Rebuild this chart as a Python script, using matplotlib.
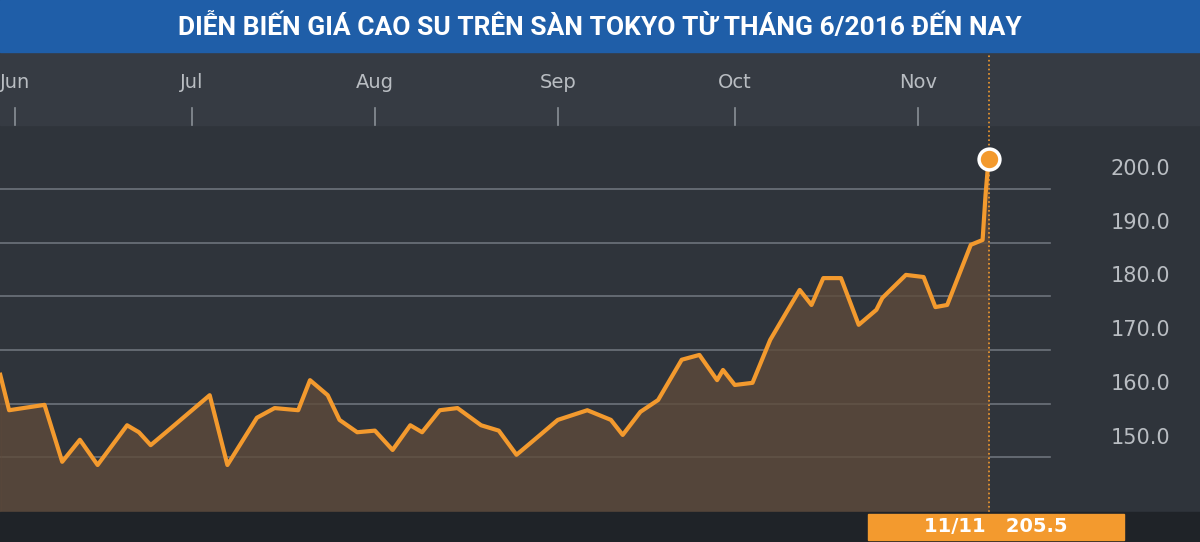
import matplotlib
matplotlib.use("Agg")
import matplotlib.pyplot as plt
import numpy as np
import datetime as dt
import matplotlib.dates as mdates

title = "DIỄN BIẾN GIÁ CAO SU TRÊN SÀN TOKYO TỪ THÁNG 6/2016 ĐẾN NAY"
day_offsets = [-2.5,-1,5,8,11,14,19,21,23,27,30,33,36,41,44,48,50,53,55,58,61,64,67,69,72,75,79,82,85,89,92,97,101,103,106,109,113,116,119,120,122,125,128,131,133,135,137,140,143,146,147,151,154,156,158,162,164,164.5,165]
prices = [165.4,158.8,159.8,149.2,153.3,148.6,156,154.7,152.3,156,158.8,161.6,148.6,157.4,159.2,158.8,164.4,161.6,157,154.7,155,151.4,156,154.7,158.8,159.2,156,155,150.5,154.2,157,158.8,157,154.2,158.5,160.7,168.2,169.1,164.4,166.3,163.5,163.9,171.9,177.5,181.2,178.4,183.4,183.4,174.7,177.5,179.7,184,183.6,178,178.4,189.6,190.5,198.9,205.5]
month_labels = ["Jun","Jul","Aug","Sep","Oct","Nov"]
yticks = [150,160,170,180,190,200]

start = dt.datetime(2016,6,1)
dates = [start + dt.timedelta(days=d) for d in day_offsets]
x = mdates.date2num(dates)

fig = plt.figure(figsize=(12,5.42), dpi=100)
fig.patch.set_facecolor("#2f343b")
fig.patches.append(plt.Rectangle((0,1-52/542),1,52/542,transform=fig.transFigure,color="#1f5ea8",zorder=0))
fig.text(0.5,1-27/542,title,ha="center",va="center",color="white",fontsize=19,fontweight="bold",family="Roboto",fontstretch="condensed")

ax = fig.add_axes([0,30/542,1,460/542])
ax.set_facecolor("#2f343b")
x0 = mdates.date2num(start) - 15/5.9
ax.set_xlim(x0, x0 + 1200/5.9)
ax.set_ylim(139.85, 225.5)
ax.axhspan(225.5-(125-52)/5.37, 225.5, color="#363b43", zorder=0)
for yv in yticks:
    ax.axhline(yv, color="#6d737b", lw=1.2, xmax=1050/1200, zorder=1)
    ax.text(x0 + 1170/5.9, yv+3.7, f"{yv}.0", color="#b9bdc2", fontsize=15, ha="right", va="center")
for i, m in enumerate(month_labels):
    mx = mdates.date2num(dt.datetime(2016,6+i,1))
    ax.text(mx, 225.5-(82-52)/5.37, m, color="#b9bdc2", fontsize=14, ha="center", va="center")
    ax.plot([mx,mx],[225.5-(125-52)/5.37, 225.5-(108-52)/5.37], color="#8a9097", lw=1.2)
ax.fill_between(x, prices, 139.85, color="#5e4a3a", alpha=0.8, zorder=2)
ax.plot(x, prices, color="#f39a2e", lw=3, zorder=3)
ax.axvline(x[-1], color="#f39a2e", ls=":", lw=1.2, zorder=2)
ax.plot(x[-1], prices[-1], "o", ms=15, mfc="#f39a2e", mec="white", mew=2.5, zorder=4)
ax.axis("off")

fig.patches.append(plt.Rectangle((0,0),1,30/542,transform=fig.transFigure,color="#1f2328",zorder=0))
fig.patches.append(plt.Rectangle((868/1200,2/542),256/1200,26/542,transform=fig.transFigure,color="#f39a2e",zorder=1))
fig.text(0.83,15/542,"11/11   205.5",ha="center",va="center",color="white",fontsize=14,fontweight="bold")
fig.savefig("out.png", dpi=100, facecolor=fig.get_facecolor())
